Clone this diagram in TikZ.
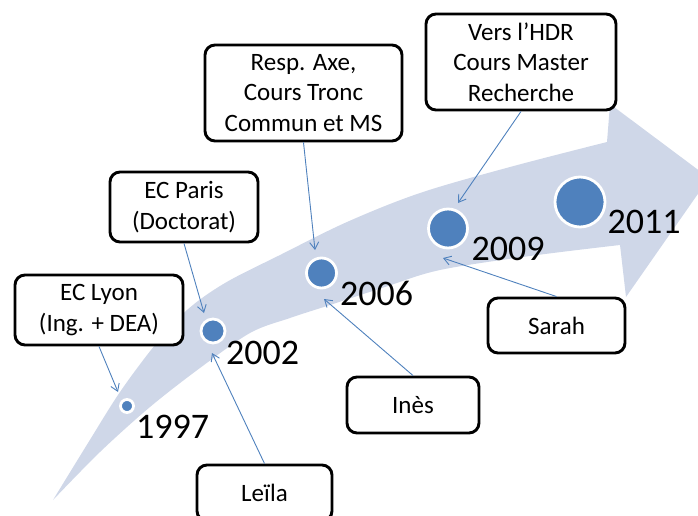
\documentclass[tikz,border=0pt]{standalone}
\usepackage{fontspec}
\setmainfont{Carlito}
\usetikzlibrary{arrows.meta}
\definecolor{band}{RGB}{207,215,232}
\definecolor{dot}{RGB}{79,129,189}
\tikzset{
  box/.style={draw=black, line width=2.9pt, rounded corners=10pt, fill=white,
    align=center, inner sep=0pt, font=\fontsize{25}{30.5}\selectfont},
  dotc/.style={circle, fill=dot, draw=white, line width=2.8pt, inner sep=0pt},
  year/.style={font=\fontsize{36}{40}\selectfont, inner sep=0pt},
  conn/.style={draw=dot, line width=0.9pt, -{Straight Barb[length=7pt,width=9pt]}}
}
\begin{document}
\begin{tikzpicture}[x=1pt,y=-1pt]
\useasboundingbox (0,0) rectangle (698,516);
\clip (0,0) rectangle (698,516);
% band arrow
\fill[band] plot[smooth, tension=0.55] coordinates {(53,500) (88,443) (120,392) (155,345) (187,310) (225,283) (280,255) (347,222) (420,193) (510,167) (607,142)}
  -- (610,104) -- (709,178) -- (626,297)
  -- plot[smooth, tension=0.55] coordinates {(620,245) (530,256) (440,270) (385,287) (330,305) (290,318) (250,333) (200,368) (150,407) (100,452) (53,500)} -- cycle;
% circles
\node[dotc, minimum size=13pt] (c1997) at (127,406) {};
\node[dotc, minimum size=24pt] (c2002) at (213,331) {};
\node[dotc, minimum size=30pt] (c2006) at (321.5,273) {};
\node[dotc, minimum size=39pt] (c2009) at (448,228.5) {};
\node[dotc, minimum size=50pt] (c2011) at (580,202) {};
% years
\node[year] (y1997) at (172.5,426.5) {1997};
\node[year] (y2002) at (262.5,353) {2002};
\node[year] (y2006) at (376.5,293.5) {2006};
\node[year] (y2009) at (508,248.5) {2009};
\node[year] (y2011) at (644,221.5) {2011};
% boxes
\node[box, minimum width=168pt, minimum height=70pt] (lyon) at (99,310) {EC Lyon\\(Ing. + DEA)};
\node[box, minimum width=148pt, minimum height=70pt] (paris) at (184,207) {EC Paris\\(Doctorat)};
\node[box, minimum width=197pt, minimum height=96pt] (resp) at (303.5,93) {Resp. Axe,\\Cours Tronc\\Commun et MS};
\node[box, minimum width=190pt, minimum height=96pt] (hdr) at (521,62) {Vers l’HDR\\Cours Master\\Recherche};
\node[box, minimum width=137pt, minimum height=55pt] (sarah) at (556.5,325.5) {Sarah};
\node[box, minimum width=132pt, minimum height=56pt] (ines) at (413,405) {Inès};
\node[box, minimum width=135pt, minimum height=56pt] (leila) at (264.5,493) {Leïla};
% arrow end points
\coordinate (e1997) at (118,392);
\coordinate (e2002a) at (204,313);
\coordinate (e2002b) at (212,353);
\coordinate (e2006a) at (315,250);
\coordinate (e2006b) at (324,299);
\coordinate (e2009a) at (458,203);
\coordinate (e2009b) at (443,258);
% connectors
\draw[conn] (lyon.south) -- (e1997);
\draw[conn] (paris.south) -- (e2002a);
\draw[conn] (leila.north) -- (e2002b);
\draw[conn] (resp.south) -- (e2006a);
\draw[conn] (ines.north) -- (e2006b);
\draw[conn] (hdr.south) -- (e2009a);
\draw[conn] (sarah.north) -- (e2009b);
\end{tikzpicture}
\end{document}
